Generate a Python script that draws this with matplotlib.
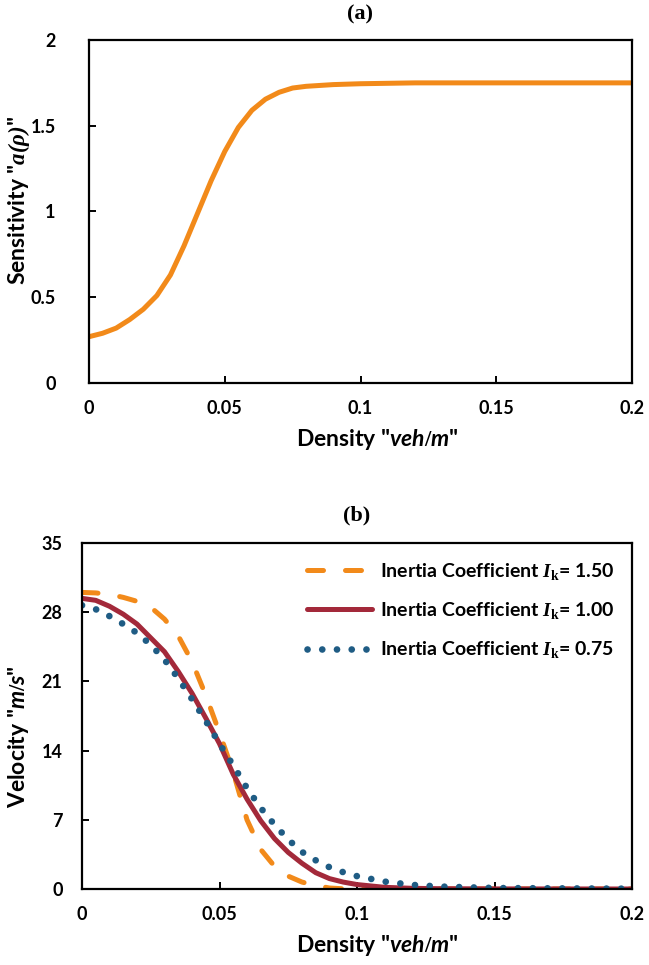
import matplotlib
matplotlib.use("Agg")
import matplotlib.pyplot as plt
import numpy as np

# ---------------- data ----------------
dens_a = [0, 0.005, 0.01, 0.015, 0.02, 0.025, 0.03, 0.035, 0.04, 0.045, 0.05,
          0.055, 0.06, 0.065, 0.07, 0.075, 0.08, 0.09, 0.1, 0.12, 0.15, 0.2]
sens_a = [0.27, 0.29, 0.32, 0.37, 0.43, 0.51, 0.63, 0.80, 0.99, 1.18, 1.35,
          1.49, 1.59, 1.655, 1.695, 1.72, 1.73, 1.74, 1.745, 1.75, 1.75, 1.75]

dens_b = [0, 0.005, 0.01, 0.015, 0.02, 0.025, 0.03, 0.035, 0.04, 0.045, 0.05,
          0.055, 0.06, 0.065, 0.07, 0.075, 0.08, 0.085, 0.09, 0.095, 0.1,
          0.11, 0.12, 0.13, 0.15, 0.2]
vel_150 = [30.0, 29.95, 29.8, 29.5, 29.1, 28.5, 27.3, 25.6, 23.0, 19.6, 15.8,
           11.8, 7.0, 4.0, 2.3, 1.3, 0.7, 0.35, 0.1, 0.02, 0.0,
           0.0, 0.0, 0.0, 0.0, 0.0]
vel_100 = [29.4, 29.2, 28.6, 27.8, 26.8, 25.4, 24.0, 22.0, 19.8, 17.3, 14.7,
           11.6, 9.1, 6.9, 5.1, 3.7, 2.6, 1.65, 1.05, 0.7, 0.45,
           0.17, 0.07, 0.03, 0.01, 0.0]
vel_075 = [28.7, 28.3, 27.6, 26.8, 25.9, 24.7, 23.2, 21.3, 19.2, 17.0, 14.7,
           12.5, 10.2, 8.2, 6.5, 5.0, 3.75, 2.9, 2.2, 1.7, 1.3,
           0.75, 0.42, 0.25, 0.1, 0.03]

labels_b = ["Inertia Coefficient $\\mathsf{I}_{\\mathbf{k}}$= 1.50",
            "Inertia Coefficient $\\mathsf{I}_{\\mathbf{k}}$= 1.00",
            "Inertia Coefficient $\\mathsf{I}_{\\mathbf{k}}$= 0.75"]

xticks = [0, 0.05, 0.1, 0.15, 0.2]
xticklabels = ["0", "0.05", "0.1", "0.15", "0.2"]
yticks_a = [0, 0.5, 1, 1.5, 2]
yticklabels_a = ["0", "0.5", "1", "1.5", "2"]
yticks_b = [0, 7, 14, 21, 28, 35]

# ---------------- style ----------------
plt.rcParams['font.family'] = ['Lato', 'DejaVu Sans']
plt.rcParams['font.weight'] = 'bold'
plt.rcParams['mathtext.fontset'] = 'custom'
plt.rcParams['mathtext.it'] = 'Lato:italic:bold'
plt.rcParams['mathtext.rm'] = 'Liberation Serif'
plt.rcParams['mathtext.bf'] = 'Liberation Serif:bold'
plt.rcParams['mathtext.sf'] = 'Liberation Serif:italic'

ORANGE = '#F28A1A'
RED = '#A3293A'
BLUE = '#1F5C84'
FS = 13
LFS = 16.5

W, H = 649, 965
fig = plt.figure(figsize=(W / 100, H / 100), dpi=100)

def frac_axes(l, t, r, b):
    return fig.add_axes([l / W, 1 - b / H, (r - l) / W, (b - t) / H])

def style(ax, ypad):
    for s in ax.spines.values():
        s.set_linewidth(1.6)
        s.set_color('black')
    ax.tick_params(direction='in', length=5, width=1.4, top=False, right=False,
                   labelsize=FS)
    ax.tick_params(axis='x', pad=12)
    ax.tick_params(axis='y', pad=ypad)
    for lab in ax.get_xticklabels() + ax.get_yticklabels():
        lab.set_fontweight('bold')

# ---------------- panel (a) ----------------
ax1 = frac_axes(89, 40, 632, 383)
ax1.plot(dens_a, sens_a, color=ORANGE, lw=3.6, solid_capstyle='butt')
ax1.set_xlim(0, 0.2)
ax1.set_ylim(0, 2)
ax1.set_xticks(xticks)
ax1.set_xticklabels(xticklabels)
ax1.set_yticks(yticks_a)
ax1.set_yticklabels(yticklabels_a)
style(ax1, 24)
ax1.set_xlabel('Density "$\\mathit{veh/m}$"', fontsize=LFS, fontweight='bold')
ax1.set_ylabel('Sensitivity "$\\mathsf{a(ρ)}$"', fontsize=LFS, fontweight='bold')
ax1.xaxis.set_label_coords((377 - 89) / (632 - 89), -(440 - 383) / (383 - 40))
ax1.yaxis.set_label_coords(-(89 - 19) / (632 - 89), (383 - 200) / (383 - 40))
ax1.xaxis.label.set_va('center')
ax1.yaxis.label.set_va('center')
fig.text(0.5 * (89 + 632) / W, 1 - 14 / H, '(a)', ha='center', va='center',
         family='Liberation Serif', fontweight='bold', fontsize=16)

# ---------------- panel (b) ----------------
ax2 = frac_axes(82, 543, 632, 889)
ax2.plot(dens_b, vel_150, color=ORANGE, lw=3.6, linestyle=(0, (3.2, 4.4)),
         dash_capstyle='round', label=labels_b[0])
ax2.plot(dens_b, vel_100, color=RED, lw=3.6, solid_capstyle='round',
         label=labels_b[1])
ax2.plot(dens_b, vel_075, color=BLUE, lw=4.8, linestyle=(0, (0.01, 2.2)),
         dash_capstyle='round', label=labels_b[2])
ax2.set_xlim(0, 0.2)
ax2.set_ylim(0, 35)
ax2.set_xticks(xticks)
ax2.set_xticklabels(xticklabels)
ax2.set_yticks(yticks_b)
style(ax2, 14)
ax2.set_xlabel('Density "$\\mathit{veh/m}$"', fontsize=LFS, fontweight='bold')
ax2.set_ylabel('Velocity "$\\mathit{m/s}$"', fontsize=LFS, fontweight='bold')
ax2.xaxis.set_label_coords((377 - 82) / (632 - 82), -(945 - 889) / (889 - 543))
ax2.yaxis.set_label_coords(-(82 - 19) / (632 - 82), (889 - 737) / (889 - 543))
ax2.xaxis.label.set_va('center')
ax2.yaxis.label.set_va('center')
leg = ax2.legend(loc='upper right', bbox_to_anchor=(1.0, 1.0), frameon=False,
                 fontsize=14, handlelength=3.35, handletextpad=0.4,
                 labelspacing=0.95, borderaxespad=0.5)
for t in leg.get_texts():
    t.set_fontweight('bold')
fig.text(0.5 * (82 + 632) / W, 1 - 515 / H, '(b)', ha='center', va='center',
         family='Liberation Serif', fontweight='bold', fontsize=16)

fig.savefig('out.png', dpi=100)
